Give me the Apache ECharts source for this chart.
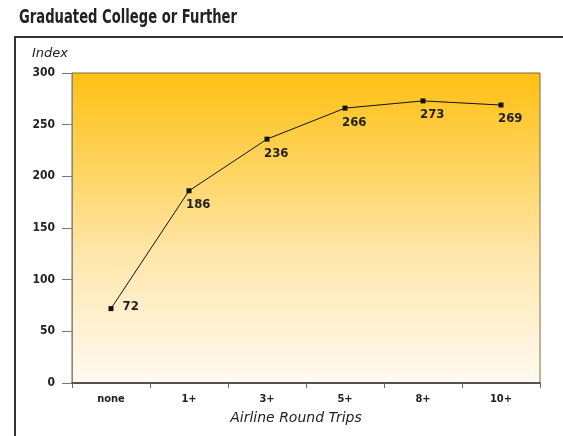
<!DOCTYPE html>
<html>
<head>
<meta charset="utf-8">
<script src="https://cdn.jsdelivr.net/npm/echarts@6/dist/echarts.min.js"></script>
<style>
  html, body { margin: 0; padding: 0; background: #fff; }
  #chart { width: 563px; height: 436px; }
</style>
</head>
<body>
<div id="chart"></div>
<script>
// Index of college graduates by number of airline round trips
const categories = ['none', '1+', '3+', '5+', '8+', '10+'];
const indexValues = [72, 186, 236, 266, 273, 269];
const yTicks = { min: 0, max: 300, interval: 50 };
const titleText = 'Graduated College or Further';

const chart = echarts.init(document.getElementById('chart'), null, { renderer: 'canvas' });

const narrowFont = '"DejaVu Sans Condensed", Roboto, sans-serif';
const italicFont = '"DejaVu Sans", sans-serif';
const labelFont = { fontFamily: narrowFont, fontWeight: 'bold', fontSize: 13, color: '#222' };

const seriesData = indexValues.map((v, i) => {
  const item = { value: v };
  if (i === 0) {
    item.label = { position: 'right', distance: 9, offset: [0, -2] };
  }
  return item;
});

chart.setOption({
  animation: false,
  backgroundColor: '#fff',
  graphic: [
    {
      // heading set in a tall, tightly condensed bold face
      type: 'text',
      x: 19,
      y: 9,
      scaleX: 0.77,
      style: {
        text: titleText,
        font: 'bold 19px ' + narrowFont,
        fill: '#222',
        textVerticalAlign: 'top'
      },
      silent: true
    },
    {
      type: 'polyline',
      shape: { points: [[15, 436], [15, 37], [563, 37]] },
      style: { stroke: '#333', lineWidth: 2, fill: null },
      silent: true
    }
  ],
  grid: {
    left: 72, right: 23, top: 73, bottom: 53,
    show: true,
    borderColor: '#7d6c3c',
    borderWidth: 1,
    backgroundColor: new echarts.graphic.LinearGradient(0, 0, 0, 1, [
      { offset: 0, color: '#FFC012' },
      { offset: 0.3, color: '#FFD45E' },
      { offset: 0.6, color: '#FFE7AE' },
      { offset: 1, color: '#FFFAF2' }
    ])
  },
  xAxis: {
    type: 'category',
    data: categories,
    boundaryGap: true,
    name: 'Airline Round Trips',
    nameLocation: 'middle',
    nameGap: 28,
    nameTextStyle: { fontFamily: italicFont, fontStyle: 'italic', fontSize: 14, color: '#222', padding: [0, 20, 0, 0] },
    axisLine: { lineStyle: { color: '#333', width: 1.5 } },
    axisTick: { show: true, length: 5, lineStyle: { color: '#666' } },
    axisLabel: { margin: 11, fontFamily: narrowFont, fontWeight: 'bold', fontSize: 11, color: '#222' },
    splitLine: { show: false }
  },
  yAxis: {
    type: 'value',
    min: yTicks.min,
    max: yTicks.max,
    interval: yTicks.interval,
    name: 'Index',
    nameLocation: 'end',
    nameGap: 13,
    nameTextStyle: { fontFamily: italicFont, fontStyle: 'italic', fontSize: 13, color: '#222', align: 'right', padding: [0, 4, 0, 0] },
    axisLine: { show: true, lineStyle: { color: '#888', width: 1 } },
    axisTick: { show: true, length: 10, lineStyle: { color: '#777' } },
    axisLabel: { margin: 17, fontFamily: narrowFont, fontWeight: 'bold', fontSize: 12, color: '#222' },
    splitLine: { show: false }
  },
  series: [{
    type: 'line',
    data: seriesData,
    symbol: 'rect',
    symbolSize: 5,
    itemStyle: { color: '#111' },
    lineStyle: { color: '#111', width: 1 },
    label: Object.assign({
      show: true,
      position: 'bottom',
      align: 'left',
      offset: [-3, 1],
      distance: 4
    }, labelFont)
  }]
});
</script>
</body>
</html>
